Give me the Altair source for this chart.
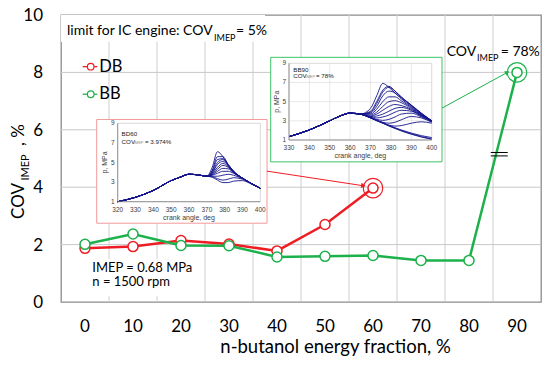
import altair as alt
import pandas as pd

# ---------------- main chart data ----------------
fraction = [0, 10, 20, 30, 40, 50, 60, 70, 80, 90]
db_cov = [1.87, 1.93, 2.14, 2.02, 1.78, 2.70, 3.97]
bb_cov = [2.01, 2.37, 1.97, 1.96, 1.57, 1.59, 1.62, 1.45, 1.45, 8.00]
series = ["DB", "BB"]
series_colors = ["#ee1d23", "#1db14b"]

x_ticks = [0, 10, 20, 30, 40, 50, 60, 70, 80, 90]
x_gridlines = [5, 15, 25, 35, 45, 55, 65, 75, 85]
y_ticks = [0, 2, 4, 6, 8, 10]
x_domain = [-5, 95]
y_domain = [0, 10]

# ---------------- inset DB60 (pressure traces) ----------------
db60_angle = [320, 330, 340, 350, 355, 360, 365, 370, 373, 376, 379, 382, 385, 390, 395, 400]
db60_compression = [1.0, 1.45, 2.15, 3.15, 3.5, 3.8, 3.74, 3.6]
db60_cycles = [
    [4.5, 6.1, 5.6, 4.7, 4.0, 3.4, 2.85, 2.36],
    [4.2, 5.6, 5.6, 4.8, 4.1, 3.4, 2.85, 2.36],
    [4.1, 5.3, 5.4, 4.8, 4.1, 3.4, 2.85, 2.36],
    [4.0, 5.0, 5.3, 4.7, 4.1, 3.4, 2.85, 2.36],
    [3.9, 4.8, 5.1, 4.7, 4.1, 3.4, 2.85, 2.36],
    [3.85, 4.5, 4.9, 4.6, 4.05, 3.4, 2.85, 2.36],
    [3.8, 4.3, 4.7, 4.5, 4.0, 3.4, 2.85, 2.36],
    [3.75, 4.1, 4.4, 4.35, 3.95, 3.4, 2.85, 2.36],
    [3.7, 3.9, 4.1, 4.1, 3.9, 3.4, 2.85, 2.36],
    [3.6, 3.6, 3.7, 3.8, 3.7, 3.35, 2.85, 2.36],
    [3.55, 3.35, 3.2, 3.3, 3.45, 3.3, 2.85, 2.36],
    [3.5, 3.2, 2.95, 2.95, 3.1, 3.15, 2.8, 2.36],
]
db60_xticks = [320, 330, 340, 350, 360, 370, 380, 390, 400]

# ---------------- inset BB90 (pressure traces) ----------------
bb90_angle = [330, 340, 350, 355, 360, 365, 370, 373, 376, 379, 382, 385, 390, 395, 400]
bb90_compression = [1.35, 2.05, 3.0, 3.5, 3.8, 3.7]
bb90_cycles = [
    [4.3, 5.6, 6.9, 6.5, 5.9, 5.4, 4.6, 3.75, 3.0],
    [4.0, 5.0, 6.2, 6.6, 6.1, 5.5, 4.65, 3.8, 3.0],
    [3.9, 4.8, 6.0, 6.5, 6.1, 5.5, 4.6, 3.75, 3.0],
    [3.8, 4.5, 5.6, 6.1, 5.9, 5.3, 4.5, 3.7, 3.0],
    [3.7, 4.2, 5.0, 5.5, 5.5, 5.1, 4.4, 3.65, 3.0],
    [3.6, 3.9, 4.5, 5.0, 5.1, 4.9, 4.3, 3.6, 3.0],
    [3.5, 3.7, 4.1, 4.5, 4.7, 4.6, 4.2, 3.55, 3.0],
    [3.45, 3.5, 3.7, 4.0, 4.3, 4.4, 4.1, 3.5, 2.95],
    [3.4, 3.3, 3.4, 3.6, 3.9, 4.1, 4.0, 3.5, 2.95],
    [3.35, 3.15, 3.05, 3.15, 3.4, 3.7, 3.8, 3.4, 2.9],
    [3.35, 3.05, 2.85, 2.75, 2.85, 3.1, 3.45, 3.3, 2.85],
    [3.3, 3.0, 2.75, 2.55, 2.45, 2.5, 2.75, 2.9, 2.75],
    [3.3, 3.05, 2.75, 2.45, 2.2, 1.95, 1.6, 1.3, 1.07],
    [3.3, 3.05, 2.78, 2.5, 2.25, 2.0, 1.65, 1.35, 1.12],
    [3.32, 3.08, 2.8, 2.52, 2.28, 2.05, 1.72, 1.45, 1.25],
]
bb90_xticks = [330, 340, 350, 360, 370, 380, 390, 400]
p_ticks = [1, 3, 5, 7, 9]

# ---------------- layout ----------------
W, H = 480, 287
PXX = W / (x_domain[1] - x_domain[0])
PXY = H / (y_domain[1] - y_domain[0])
FONT = "Lato"
SMALL = "Liberation Sans"
xs = alt.Scale(domain=x_domain, nice=False, zero=False)
ys = alt.Scale(domain=y_domain, nice=False, zero=False)
cs = alt.Scale(domain=series, range=series_colors)


def XQ(f):
    return alt.X(f, type="quantitative", scale=xs, axis=None)


def YQ(f):
    return alt.Y(f, type="quantitative", scale=ys, axis=None)


def COL(f="s"):
    return alt.Color(f, type="nominal", scale=cs, legend=None)


def texts(rows, **style):
    df = pd.DataFrame(rows, columns=["t", "x", "y"])
    return alt.Chart(df).mark_text(**style).encode(
        x=XQ("x"), y=YQ("y"), text=alt.Text("t", type="nominal"))


def rects(rows, **style):
    df = pd.DataFrame(rows, columns=["x", "x2", "y", "y2"])
    return alt.Chart(df).mark_rect(**style).encode(
        x=XQ("x"), x2="x2", y=YQ("y"), y2="y2")


layers = []

# ---- main gridlines ----
vgrid_df = pd.DataFrame({"g": x_gridlines, "y0": y_domain[0], "y1": y_domain[1]})
layers.append(alt.Chart(vgrid_df).mark_rule(color="#cfcfcf", strokeWidth=1).encode(
    x=XQ("g"), y=YQ("y0"), y2="y1"))
hgrid_df = pd.DataFrame({"g": y_ticks[1:-1], "x0": x_domain[0], "x1": x_domain[1]})
layers.append(alt.Chart(hgrid_df).mark_rule(color="#c8c8c8", strokeWidth=1).encode(
    y=YQ("g"), x=XQ("x0"), x2="x1"))

# ---- white text backgrounds and inset boxes ----
layers.append(rects([(-5, 37.5, 10, 9.06), (0.5, 23.5, 1.5, 0.2)], fill="white"))
layers.append(rects([(2.44, 37.92, 6.36, 2.745)], fill="white", stroke="#f29a9a",
                    strokeWidth=1))
layers.append(rects([(38.69, 74.375, 8.525, 4.883)], fill="white", stroke="#3cc466",
                    strokeWidth=1))

# ---- arrows ----
arrows_df = pd.DataFrame({
    "x": [37.92, 74.375], "y": [4.56, 6.756],
    "x2": [58.0, 88.0], "y2": [4.05, 8.0],
    "s": series,
})
layers.append(alt.Chart(arrows_df).mark_rule(strokeWidth=1).encode(
    x=XQ("x"), y=YQ("y"), x2="x2", y2="y2", color=COL()))
layers.append(alt.Chart(arrows_df.iloc[[0]]).mark_point(
    shape="triangle-right", filled=True, size=28, angle=8.8, opacity=1).encode(
    x=XQ("x2"), y=YQ("y2"), color=COL()))
layers.append(alt.Chart(arrows_df.iloc[[1]]).mark_point(
    shape="triangle-right", filled=True, size=28, angle=331.4, opacity=1).encode(
    x=XQ("x2"), y=YQ("y2"), color=COL()))

# ---- main series ----
main_df = pd.DataFrame({
    "frac": fraction[:len(db_cov)] + fraction[:len(bb_cov)],
    "cov": db_cov + bb_cov,
    "s": [series[0]] * len(db_cov) + [series[1]] * len(bb_cov),
})
last_df = pd.DataFrame({
    "frac": [fraction[len(db_cov) - 1], fraction[len(bb_cov) - 1]],
    "cov": [db_cov[-1], bb_cov[-1]],
    "s": series,
})
layers.append(alt.Chart(main_df).mark_line(strokeWidth=2.5).encode(
    x=XQ("frac"), y=YQ("cov"), color=COL()))
layers.append(alt.Chart(main_df).mark_point(
    filled=False, fill="white", size=100, strokeWidth=1.5, opacity=1).encode(
    x=XQ("frac"), y=YQ("cov"), color=COL()))
layers.append(alt.Chart(last_df).mark_point(
    filled=False, size=380, strokeWidth=1.2, opacity=1).encode(
    x=XQ("frac"), y=YQ("cov"), color=COL()))
layers.append(alt.Chart(pd.DataFrame({"x": [86.3], "y": [5.15]})).mark_point(
    shape="M-1,-0.2L1,-0.2M-1,0.2L1,0.2", size=289, color="black",
    strokeWidth=1, filled=False, opacity=1).encode(x=XQ("x"), y=YQ("y")))

# ---- legend (line + circle + label) ----
leg_df = pd.DataFrame({"s": series, "y": [8.2, 7.24],
                       "x0": -0.48, "x1": 2.56, "xc": 1.19, "xt": 2.98})
layers.append(alt.Chart(leg_df).mark_rule(strokeWidth=1.3).encode(
    x=XQ("x0"), x2="x1", y=YQ("y"), color=COL()))
layers.append(alt.Chart(leg_df).mark_point(
    filled=False, fill="white", size=44, strokeWidth=1.2, opacity=1).encode(
    x=XQ("xc"), y=YQ("y"), color=COL()))
layers.append(alt.Chart(leg_df).mark_text(
    fontSize=16.5, font=FONT, color="black", align="left", baseline="middle").encode(
    x=XQ("xt"), y=YQ("y"), text=alt.Text("s", type="nominal")))

# ---- main tick labels (axes) ----
xt_df = pd.DataFrame({"v": x_ticks, "y0": y_domain[0]})
layers.append(alt.Chart(xt_df).mark_text(
    font=FONT, fontSize=17, color="black", align="center", baseline="middle", dy=25).encode(
    x=XQ("v"), y=YQ("y0"), text=alt.Text("v", type="quantitative")))
yt_df = pd.DataFrame({"v": y_ticks, "x0": x_domain[0]})
layers.append(alt.Chart(yt_df).mark_text(
    font=FONT, fontSize=17, color="black", align="right", baseline="middle", dx=-18,
    dy=1).encode(
    x=XQ("x0"), y=YQ("v"), text=alt.Text("v", type="quantitative")))

# ---- annotation texts ----
left = dict(font=FONT, color="black", align="left", baseline="middle")
right = dict(font=FONT, color="black", align="right", baseline="middle")
rot = dict(font=FONT, color="black", align="center", baseline="middle", angle=270)
layers += [
    texts([("limit for IC engine: COV", 26.6, 9.44)], fontSize=14, **right),
    texts([("IMEP", 26.875, 9.215)], fontSize=9, **left),
    texts([("= 5%", 31.46, 9.44)], fontSize=14, **left),
    texts([("COV", 81.5, 8.71)], fontSize=14, **right),
    texts([("IMEP", 81.67, 8.5)], fontSize=9, **left),
    texts([("= 78%", 86.6, 8.71)], fontSize=14, **left),
    texts([("IMEP = 0.68 MPa", 1.52, 1.19), ("n = 1500 rpm", 1.52, 0.69)],
          fontSize=13, **left),
    texts([("n-butanol energy fraction, %", 52.2, -1.57)], fontSize=18.5,
          font=FONT, color="black", align="center", baseline="middle"),
    texts([("COV", -13.8, 3.52), (", %", -13.8, 5.82)], fontSize=17, **rot),
    texts([("IMEP", -12.2, 4.69)], fontSize=11, **rot),
]


# ---- insets: values mapped into the main frame by Vega-Lite calculate ----
def E(ins, field, axis, px=0.0):
    if axis == "x":
        k = (ins["x1"] - ins["x0"]) / (ins["a1"] - ins["a0"])
        return f"{ins['x0']} + (datum['{field}'] - {ins['a0']}) * {k} + {px / PXX}"
    k = (ins["y1"] - ins["y0"]) / (ins["p1"] - ins["p0"])
    return f"{ins['y0']} + (datum['{field}'] - {ins['p0']}) * {k} - {px / PXY}"


def inset_layers(ins, angles, compression, cycles, xticks, labels, subs, grid):
    a0, a1, p0, p1 = xticks[0], xticks[-1], p_ticks[0], p_ticks[-1]
    out = []
    box = pd.DataFrame({"a0": [a0], "a1": [a1], "p0": [p0], "p1": [p1],
                        "am": [(a0 + a1) / 2], "pm": [(p0 + p1) / 2]})
    out.append(alt.Chart(box).transform_calculate(
        mx=E(ins, "a0", "x"), mx2=E(ins, "a1", "x"),
        my=E(ins, "p0", "y"), my2=E(ins, "p1", "y")).mark_rect(
        fillOpacity=0, stroke="#c8c8c8", strokeWidth=0.7).encode(
        x=XQ("mx"), x2="mx2", y=YQ("my"), y2="my2"))
    if grid:
        gx = pd.DataFrame({"a": xticks[1:-1], "p0": p0, "p1": p1})
        out.append(alt.Chart(gx).transform_calculate(
            mx=E(ins, "a", "x"), my=E(ins, "p0", "y"), my2=E(ins, "p1", "y")).mark_rule(
            color="#dedede", strokeWidth=0.7).encode(x=XQ("mx"), y=YQ("my"), y2="my2"))
        gy = pd.DataFrame({"p": p_ticks[1:-1], "a0": a0, "a1": a1})
        out.append(alt.Chart(gy).transform_calculate(
            my=E(ins, "p", "y"), mx=E(ins, "a0", "x"), mx2=E(ins, "a1", "x")).mark_rule(
            color="#dedede", strokeWidth=0.7).encode(y=YQ("my"), x=XQ("mx"), x2="mx2"))
    rows = []
    for i, cyc in enumerate(cycles):
        for a, p in zip(angles, compression + cyc):
            rows.append({"angle": a, "p": p, "cycle": i})
    out.append(alt.Chart(pd.DataFrame(rows)).transform_calculate(
        mx=E(ins, "angle", "x"), my=E(ins, "p", "y")).mark_line(
        interpolate="monotone", strokeWidth=0.9, color="#14148c", opacity=1).encode(
        x=XQ("mx"), y=YQ("my"), detail="cycle:N"))
    # axis lines
    out.append(alt.Chart(box).transform_calculate(
        mx=E(ins, "a0", "x"), my=E(ins, "p0", "y"), my2=E(ins, "p1", "y")).mark_rule(
        color="#808080", strokeWidth=0.8).encode(x=XQ("mx"), y=YQ("my"), y2="my2"))
    out.append(alt.Chart(box).transform_calculate(
        mx=E(ins, "a0", "x"), mx2=E(ins, "a1", "x"), my=E(ins, "p0", "y")).mark_rule(
        color="#808080", strokeWidth=0.8).encode(x=XQ("mx"), x2="mx2", y=YQ("my")))
    # tick labels
    tl = dict(font=SMALL, fontSize=6.5, color="#404040", baseline="middle")
    out.append(alt.Chart(pd.DataFrame({"a": xticks, "p0": p0})).transform_calculate(
        mx=E(ins, "a", "x"), my=E(ins, "p0", "y")).mark_text(
        align="center", dy=8, **tl).encode(
        x=XQ("mx"), y=YQ("my"), text=alt.Text("a", type="quantitative")))
    out.append(alt.Chart(pd.DataFrame({"p": p_ticks, "a0": a0})).transform_calculate(
        mx=E(ins, "a0", "x"), my=E(ins, "p", "y")).mark_text(
        align="right", dx=-3, **tl).encode(
        x=XQ("mx"), y=YQ("my"), text=alt.Text("p", type="quantitative")))
    # axis titles
    t1 = box.assign(t="crank angle, deg")
    out.append(alt.Chart(t1).transform_calculate(
        mx=E(ins, "am", "x"), my=E(ins, "p0", "y", 16)).mark_text(
        font=SMALL, fontSize=7, color="#404040", align="center", baseline="middle").encode(
        x=XQ("mx"), y=YQ("my"), text=alt.Text("t", type="nominal")))
    t2 = box.assign(t="p, MPa")
    out.append(alt.Chart(t2).transform_calculate(
        mx=E(ins, "a0", "x", -12.5), my=E(ins, "pm", "y")).mark_text(
        font=SMALL, fontSize=7, color="#404040", align="center", baseline="middle",
        angle=270).encode(x=XQ("mx"), y=YQ("my"), text=alt.Text("t", type="nominal")))
    # in-plot labels
    for rows_, size, color in ((labels, 6.2, "#202020"), (subs, 4.0, "#8a8a8a")):
        df = pd.DataFrame(rows_, columns=["t", "a", "p"])
        out.append(alt.Chart(df).transform_calculate(
            mx=E(ins, "a", "x"), my=E(ins, "p", "y")).mark_text(
            font=SMALL, fontSize=size, color=color, align="left", baseline="middle").encode(
            x=XQ("mx"), y=YQ("my"), text=alt.Text("t", type="nominal")))
    return out


red_ins = dict(a0=db60_xticks[0], a1=db60_xticks[-1], p0=p_ticks[0], p1=p_ticks[-1],
               x0=6.8125, x1=36.52, y0=3.495, y1=6.226)
green_ins = dict(a0=bb90_xticks[0], a1=bb90_xticks[-1], p0=p_ticks[0], p1=p_ticks[-1],
                 x0=42.5, x1=72.23, y0=5.645, y1=8.317)

layers += inset_layers(red_ins, db60_angle, db60_compression, db60_cycles, db60_xticks,
                       [("BD60", 322.2, 7.9), ("COV", 322.2, 7.06), ("= 3.974%", 335.3, 7.06)],
                       [("IMEP", 329.0, 6.95)], False)
layers += inset_layers(green_ins, bb90_angle, bb90_compression, bb90_cycles, bb90_xticks,
                       [("BB90", 332.1, 8.3), ("COV", 332.1, 7.68), ("= 78%", 343.25, 7.68)],
                       [("IMEP", 338.0, 7.55)], True)

chart = alt.layer(*layers).properties(
    width=W, height=H,
    autosize=alt.AutoSizeParams(type="none"),
    padding={"left": 53, "top": 7, "right": 1, "bottom": 55},
).configure_view(stroke="#8c8c8c", strokeWidth=1.3)

chart.save("out.html", embed_options={"renderer": "svg", "actions": False})
